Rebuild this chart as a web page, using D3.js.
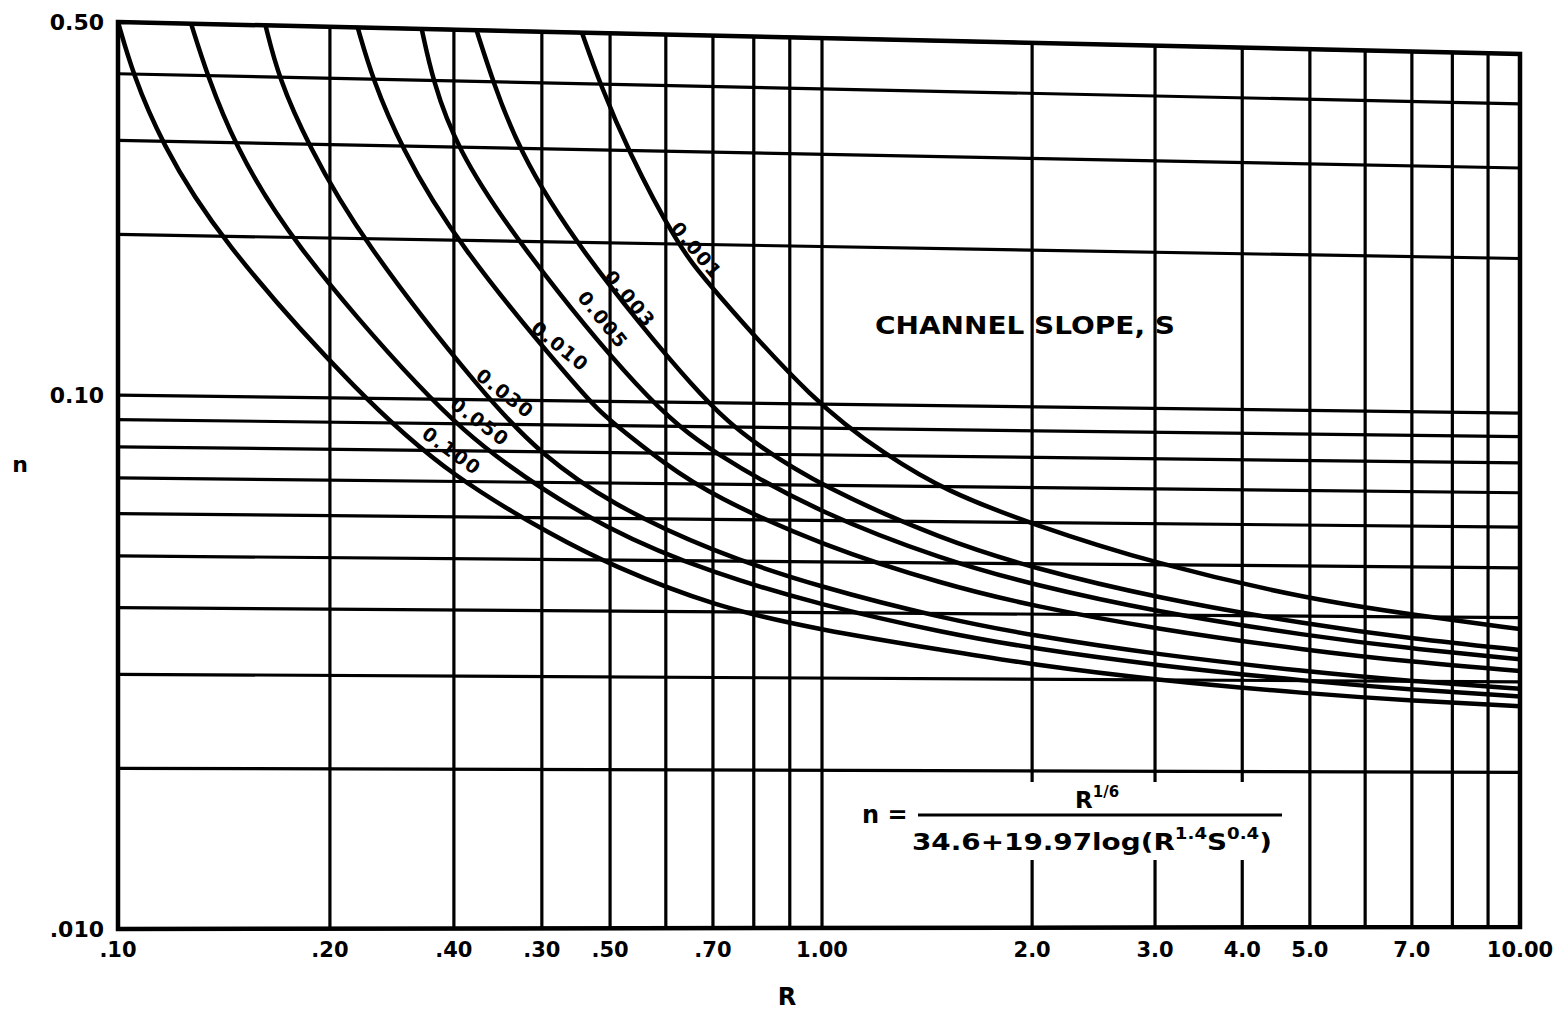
<!DOCTYPE html>
<html>
<head>
<meta charset="utf-8">
<script src="https://cdn.jsdelivr.net/npm/d3@7"></script>
<style>
  body { margin: 0; background: #fff; }
  svg { display: block; }
  text { font-family: "DejaVu Sans", sans-serif; font-weight: bold; fill: #000; }
</style>
</head>
<body>
<div id="container"></div>
<script>
const width = 1564;
const height = 1013;

// channel slope of each curve, and the curve points [R, n]
const slopes = ["0.001", "0.003", "0.005", "0.010", "0.030", "0.050", "0.100"];

const s0001 = [[0.456, 0.50], [0.484, 0.40], [0.530, 0.30], [0.622, 0.20], [0.687, 0.169], [0.978, 0.10], [1.24, 0.080], [1.5, 0.0688], [2.0, 0.0595], [3.0, 0.0502], [5.0, 0.0431], [7.0, 0.0404], [10, 0.0380]];
const s0003 = [[0.323, 0.50], [0.341, 0.40], [0.370, 0.30], [0.443, 0.20], [0.680, 0.10], [0.80, 0.084], [1.0, 0.0695], [1.5, 0.0552], [2.0, 0.0491], [3.0, 0.0432], [5.0, 0.0385], [7.0, 0.0363], [10, 0.0346]];
const s0005 = [[0.270, 0.50], [0.280, 0.40], [0.302, 0.30], [0.368, 0.20], [0.564, 0.10], [0.70, 0.080], [1.0, 0.0617], [1.5, 0.0506], [2.0, 0.0456], [3.0, 0.0406], [5.0, 0.0366], [7.0, 0.0347], [10, 0.0332]];
const s0010 = [[0.219, 0.50], [0.230, 0.40], [0.252, 0.30], [0.300, 0.20], [0.465, 0.10], [0.50, 0.092], [0.60, 0.076], [0.70, 0.0665], [1.0, 0.0537], [1.5, 0.0454], [2.0, 0.0415], [3.0, 0.0376], [5.0, 0.0343], [7.0, 0.0327], [10, 0.0315]];
const s0030 = [[0.162, 0.50], [0.169, 0.40], [0.186, 0.30], [0.221, 0.20], [0.335, 0.10], [0.40, 0.079], [0.50, 0.064], [0.70, 0.052], [1.0, 0.0446], [1.5, 0.0391], [2.0, 0.0364], [3.0, 0.0336], [5.0, 0.0312], [7.0, 0.0300], [10, 0.0291]];
const s0050 = [[0.127, 0.50], [0.134, 0.40], [0.146, 0.30], [0.174, 0.20], [0.275, 0.10], [0.35, 0.076], [0.50, 0.0565], [0.70, 0.0474], [1.0, 0.0413], [1.5, 0.0367], [2.0, 0.0344], [3.0, 0.0320], [5.0, 0.0299], [7.0, 0.0289], [10, 0.0281]];
const s0100 = [[0.100, 0.50], [0.105, 0.40], [0.115, 0.30], [0.138, 0.20], [0.222, 0.10], [0.30, 0.071], [0.42, 0.055], [0.50, 0.049], [0.70, 0.041], [1.0, 0.037], [1.5, 0.0340], [2.0, 0.0320], [3.0, 0.0300], [5.0, 0.0283], [7.0, 0.0275], [10, 0.0269]];

const curves = [s0001, s0003, s0005, s0010, s0030, s0050, s0100];

// grid and tick labels
const xGrid = [0.1, 0.2, 0.3, 0.4, 0.5, 0.6, 0.7, 0.8, 0.9, 1, 2, 3, 4, 5, 6, 7, 8, 9, 10];
const yGrid = [0.01, 0.02, 0.03, 0.04, 0.05, 0.06, 0.07, 0.08, 0.09, 0.1, 0.2, 0.3, 0.4, 0.5];
const xTickValues = [0.1, 0.2, 0.3, 0.4, 0.5, 0.7, 1, 2, 3, 4, 5, 7, 10];
const xTickLabels = [".10", ".20", ".40", ".30", ".50", ".70", "1.00", "2.0", "3.0", "4.0", "5.0", "7.0", "10.00"];
const yTickValues = [0.5, 0.1, 0.01];
const yTickLabels = ["0.50", "0.10", ".010"];

// where the slope labels sit, in chart units [R, n], and their tilt
const labelAt = [[0.664, 0.195], [0.534, 0.157], [0.489, 0.143], [0.425, 0.127], [0.355, 0.103], [0.327, 0.091], [0.298, 0.080]];
const labelTilt = [50, 50, 51, 39, 38, 37, 36];

const x = d3.scaleLog().domain([0.1, 1, 10]).range([118, 822, 1520]);
// the scanned sheet is not square: the right edge sits lower and shorter
const yLeft = d3.scaleLog().domain([0.01, 0.5]).range([929, 22]);
const yRight = d3.scaleLog().domain([0.01, 0.5]).range([927, 54]);
const [x0, x1] = [x(0.1), x(10)];

const pt = (r, n) => {
  const px = x(r);
  const t = (px - x0) / (x1 - x0);
  return [px, yLeft(n) * (1 - t) + yRight(n) * t];
};

const svg = d3
  .select("#container")
  .append("svg")
  .attr("width", width)
  .attr("height", height)
  .attr("viewBox", `0 0 ${width} ${height}`);

svg.append("rect").attr("width", width).attr("height", height).attr("fill", "#fff");

const frame = [pt(0.1, 0.5), pt(10, 0.5), pt(10, 0.01), pt(0.1, 0.01)];

svg.append("clipPath").attr("id", "plot")
  .append("polygon")
  .attr("points", frame.map((p) => p.join(",")).join(" "));

// grid
const grid = svg.append("g").attr("stroke", "#000").attr("stroke-width", 3.2);

grid.selectAll(".h")
  .data(yGrid)
  .join("line")
  .attr("x1", (d) => pt(0.1, d)[0])
  .attr("y1", (d) => pt(0.1, d)[1])
  .attr("x2", (d) => pt(10, d)[0])
  .attr("y2", (d) => pt(10, d)[1]);

grid.selectAll(".v")
  .data(xGrid)
  .join("line")
  .attr("x1", (d) => pt(d, 0.01)[0])
  .attr("y1", (d) => pt(d, 0.01)[1])
  .attr("x2", (d) => pt(d, 0.5)[0])
  .attr("y2", (d) => pt(d, 0.5)[1]);

svg.append("polygon")
  .attr("points", frame.map((p) => p.join(",")).join(" "))
  .attr("fill", "none")
  .attr("stroke", "#000")
  .attr("stroke-width", 4.5)
  .attr("stroke-linejoin", "miter");

// curves (b-spline smooths out the reading error between points)
const line = d3.line().curve(d3.curveBasis);

svg.append("g")
  .attr("clip-path", "url(#plot)")
  .selectAll("path")
  .data(curves)
  .join("path")
  .attr("d", (d) => line(d.map(([r, n]) => pt(r, n))))
  .attr("fill", "none")
  .attr("stroke", "#000")
  .attr("stroke-width", 4.5);

// slope labels
svg.append("g")
  .selectAll("text")
  .data(slopes)
  .join("text")
  .attr("transform", (d, i) => {
    const [px, py] = pt(...labelAt[i]);
    return `translate(${px},${py}) rotate(${labelTilt[i]})`;
  })
  .attr("text-anchor", "middle")
  .attr("dominant-baseline", "central")
  .attr("font-size", 19)
  .attr("letter-spacing", 1.5)
  .text((d) => d);

// tick labels
svg.append("g")
  .selectAll("text")
  .data(xTickValues)
  .join("text")
  .attr("x", (d) => x(d))
  .attr("y", 950)
  .attr("text-anchor", "middle")
  .attr("dominant-baseline", "central")
  .attr("font-size", 21)
  .text((d, i) => xTickLabels[i]);

svg.append("g")
  .selectAll("text")
  .data(yTickValues)
  .join("text")
  .attr("x", 104)
  .attr("y", (d) => yLeft(d))
  .attr("text-anchor", "end")
  .attr("dominant-baseline", "central")
  .attr("font-size", 22)
  .text((d, i) => yTickLabels[i]);

svg.append("text")
  .attr("x", 20).attr("y", 464)
  .attr("text-anchor", "middle")
  .attr("dominant-baseline", "central")
  .attr("font-size", 22)
  .text("n");

svg.append("text")
  .attr("x", 787).attr("y", 997)
  .attr("text-anchor", "middle")
  .attr("dominant-baseline", "central")
  .attr("font-size", 24)
  .text("R");

svg.append("text")
  .attr("x", 875).attr("y", 334)
  .attr("font-size", 25)
  .attr("textLength", 300)
  .attr("lengthAdjust", "spacingAndGlyphs")
  .text("CHANNEL SLOPE, S");

// formula box
svg.append("rect")
  .attr("x", 850).attr("y", 782)
  .attr("width", 442).attr("height", 78)
  .attr("fill", "#fff");

svg.append("text")
  .attr("x", 862).attr("y", 823)
  .attr("font-size", 24)
  .text("n =");

svg.append("line")
  .attr("x1", 918).attr("x2", 1282)
  .attr("y1", 815).attr("y2", 815)
  .attr("stroke", "#000").attr("stroke-width", 3);

const num = svg.append("text")
  .attr("x", 1075).attr("y", 808)
  .attr("font-size", 23);
num.append("tspan").text("R");
num.append("tspan").attr("dy", -11).attr("font-size", 15).text("1/6");

const den = svg.append("text")
  .attr("x", 912).attr("y", 850)
  .attr("font-size", 23)
  .attr("textLength", 360)
  .attr("lengthAdjust", "spacingAndGlyphs");
den.append("tspan").text("34.6+19.97log(R");
den.append("tspan").attr("dy", -11).attr("font-size", 15).text("1.4");
den.append("tspan").attr("dy", 11).text("S");
den.append("tspan").attr("dy", -11).attr("font-size", 15).text("0.4");
den.append("tspan").attr("dy", 11).text(")");
</script>
</body>
</html>
